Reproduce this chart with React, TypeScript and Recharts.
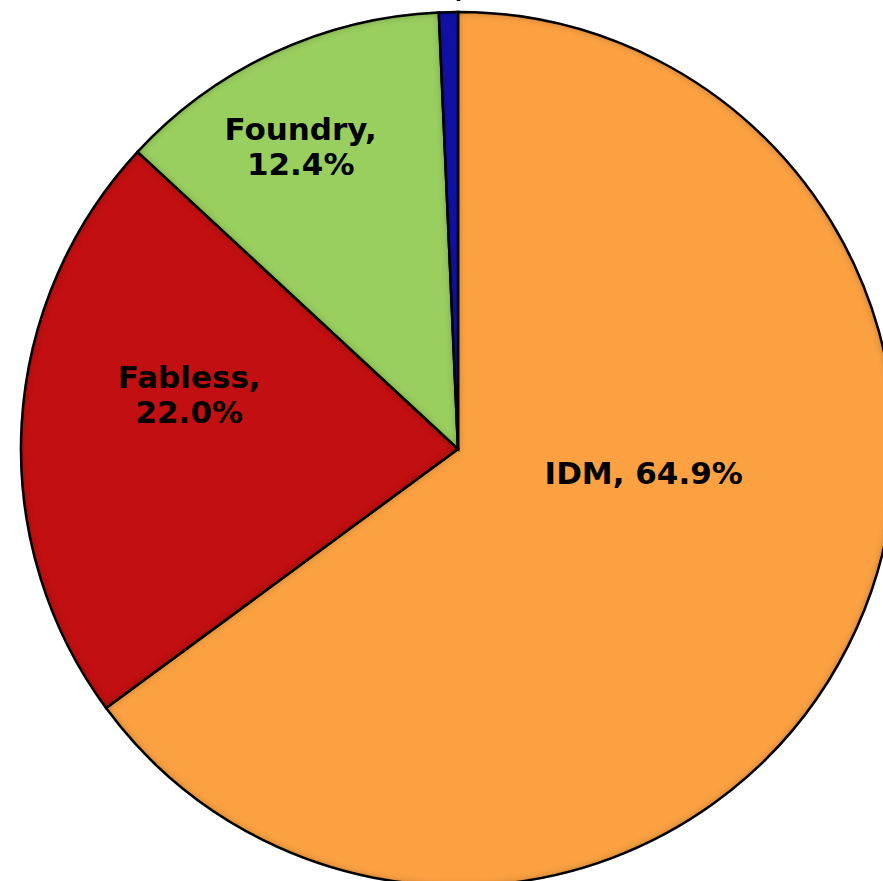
import React from 'react';
import { PieChart, Pie, Cell } from 'recharts';

// Market share by business model
const names = ['IDM', 'Fabless', 'Foundry', 'Other'];
const shares = [64.9, 22.0, 12.4, 0.7];
const colors = ['#FBA142', '#C20F11', '#99CF5F', '#1111A8'];

// label placement relative to pie centre (fraction of radius)
const labelOffsets = [
  { dx: 0.425, dy: 0.056, lines: 1 },
  { dx: -0.615, dy: -0.128, lines: 2 },
  { dx: -0.36, dy: -0.696, lines: 2 },
  { dx: 0.02, dy: -1.035, lines: 1 },
];

const data = names.map((name, i) => ({ name, value: shares[i] }));

const renderLabel = (props: any) => {
  const { cx, cy, outerRadius, index } = props;
  const off = labelOffsets[index];
  const x = cx + off.dx * outerRadius;
  const y = cy + off.dy * outerRadius;
  const pct = shares[index].toFixed(1) + '%';
  const style = { fontFamily: 'DejaVu Sans, Verdana, sans-serif', fontWeight: 700, fontSize: 31 };
  if (index === 3) {
    // mostly outside the top edge, as in the original
    return (
      <text x={x} y={y} textAnchor="end" fill="#000" style={style}>
        {names[index] + ','}
      </text>
    );
  }
  if (off.lines === 1) {
    return (
      <text x={x} y={y} textAnchor="middle" dominantBaseline="central" fill="#000" style={style}>
        {`${names[index]}, ${pct}`}
      </text>
    );
  }
  return (
    <text x={x} y={y} textAnchor="middle" fill="#000" style={style}>
      <tspan x={x} dy="-0.15em">{names[index] + ','}</tspan>
      <tspan x={x} dy="1.13em">{pct}</tspan>
    </text>
  );
};

export default function App() {
  return (
    <div style={{ position: 'absolute', left: 0, top: 0, width: 883, height: 881, background: '#fff' }}>
      <PieChart width={883} height={881} margin={{ top: 0, right: 0, bottom: 0, left: 0 }}>
        <defs>
          <filter id="innerShade" x="-10%" y="-10%" width="120%" height="120%" colorInterpolationFilters="sRGB">
            <feComponentTransfer in="SourceAlpha" result="inv">
              <feFuncA type="table" tableValues="1 0" />
            </feComponentTransfer>
            <feGaussianBlur in="inv" stdDeviation="4" result="blur" />
            <feComposite in="blur" in2="SourceAlpha" operator="in" result="edge" />
            <feFlood floodColor="#000" floodOpacity="0.4" result="col" />
            <feComposite in="col" in2="edge" operator="in" result="shade" />
            <feMerge>
              <feMergeNode in="SourceGraphic" />
              <feMergeNode in="shade" />
            </feMerge>
          </filter>
        </defs>
        <Pie
          data={data}
          dataKey="value"
          nameKey="name"
          cx={458}
          cy={449}
          outerRadius={437}
          startAngle={90}
          endAngle={-270}
          stroke="#000"
          strokeWidth={2.5}
          label={renderLabel}
          labelLine={false}
          isAnimationActive={false}
        >
          {data.map((d, i) => (
            <Cell key={d.name} fill={colors[i]} filter="url(#innerShade)" />
          ))}
        </Pie>
      </PieChart>
    </div>
  );
}
